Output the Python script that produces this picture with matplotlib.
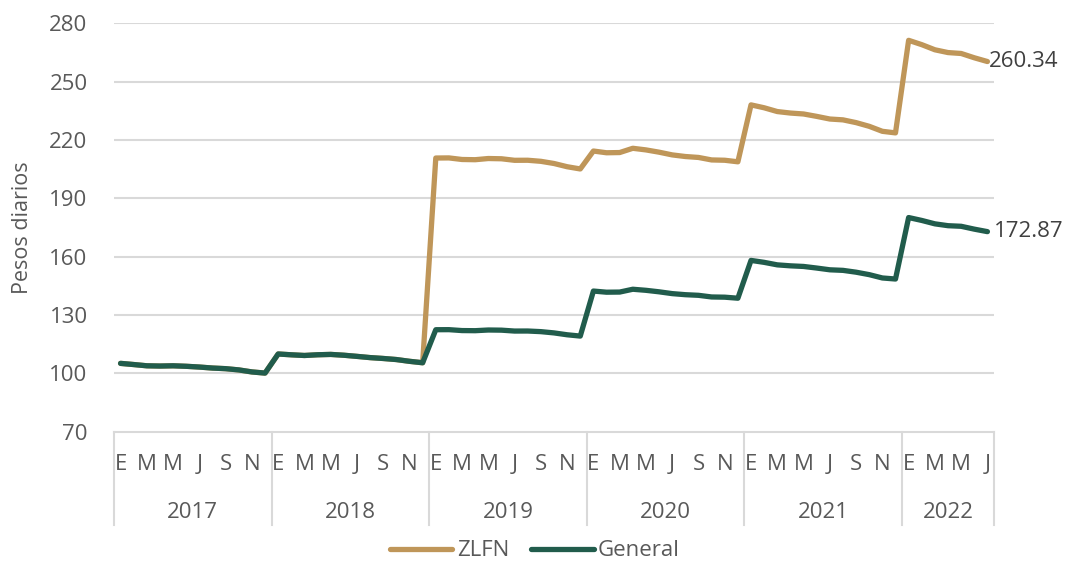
import matplotlib
matplotlib.use("Agg")
import matplotlib.pyplot as plt
import matplotlib.transforms as mtransforms

plt.rcParams['font.family'] = ['Open Sans', 'DejaVu Sans']

years = ['2017', '2018', '2019', '2020', '2021', '2022']
months_per_year = [12, 12, 12, 12, 12, 7]
month_letters = ['E', 'F', 'M', 'A', 'M', 'J', 'J', 'A', 'S', 'O', 'N', 'D']

general = [
    105.13, 104.53, 103.89, 103.76, 103.89, 103.63, 103.24, 102.73, 102.41, 101.77, 100.73, 100.14,
    109.96, 109.54, 109.19, 109.56, 109.74, 109.32, 108.73, 108.10, 107.65, 107.10, 106.19, 105.45,
    122.44, 122.47, 122.00, 121.94, 122.29, 122.21, 121.75, 121.77, 121.45, 120.80, 119.84, 119.17,
    142.32, 141.73, 141.80, 143.25, 142.70, 141.93, 141.00, 140.45, 140.13, 139.28, 139.17, 138.64,
    158.08, 157.08, 155.79, 155.29, 154.97, 154.15, 153.25, 152.96, 152.02, 150.76, 149.05, 148.51,
    180.12, 178.63, 176.88, 175.93, 175.62, 174.15, 172.87,
]
zlfn = [
    105.13, 104.53, 103.89, 103.76, 103.89, 103.63, 103.24, 102.73, 102.41, 101.77, 100.73, 100.14,
    109.96, 109.54, 109.19, 109.56, 109.74, 109.32, 108.73, 108.10, 107.65, 107.10, 106.19, 105.45,
    210.72, 210.78, 209.97, 209.86, 210.47, 210.34, 209.55, 209.58, 209.03, 207.91, 206.25, 205.10,
    214.32, 213.43, 213.54, 215.73, 214.90, 213.73, 212.33, 211.50, 211.02, 209.74, 209.58, 208.78,
    238.05, 236.56, 234.62, 233.85, 233.37, 232.14, 230.78, 230.35, 228.93, 227.03, 224.46, 223.65,
    271.25, 269.02, 266.38, 264.95, 264.48, 262.27, 260.34,
]
yticks = [70, 100, 130, 160, 190, 220, 250, 280]

TAN = '#BF9659'
GREEN = '#215C4C'
TXT = '#595959'
GRID = '#D9D9D9'
FS = 16

fig = plt.figure(figsize=(10.73, 5.64), dpi=100)
ax = fig.add_axes([114/1073, 1-431.7/564, 880/1073, 408.4/564])

n = len(general)
x = list(range(n))
ax.plot(x, zlfn, color=TAN, lw=3.8, solid_capstyle='round', solid_joinstyle='round', label='ZLFN', zorder=3)
ax.plot(x, general, color=GREEN, lw=3.8, solid_capstyle='round', solid_joinstyle='round', label='General', zorder=4)

ax.set_xlim(-0.5, n - 0.5)
ax.set_ylim(yticks[0], yticks[-1])
ax.set_yticks(yticks)
ax.set_yticklabels([str(v) for v in yticks], fontsize=FS, color=TXT)
ax.tick_params(axis='y', length=0, pad=19)
ax.set_xticks([])
for v in yticks[1:]:
    ax.axhline(v, color=GRID, lw=1.5, zorder=1)
for s in ['top', 'right', 'left']:
    ax.spines[s].set_visible(False)
ax.spines['bottom'].set_color(GRID)
ax.spines['bottom'].set_linewidth(1.5)

ax.set_ylabel('Pesos diarios', fontsize=15.5, color=TXT, labelpad=12)

trans = mtransforms.blended_transform_factory(ax.transData, ax.transAxes)
h = 408.4
start = 0
bounds = [-0.5]
for yr, m in zip(years, months_per_year):
    for k in range(0, m, 2):
        ax.text(start + k, -33/h, month_letters[k], transform=trans, ha='center', va='center',
                fontsize=FS, color=TXT)
    ax.text(start + (m - 1) / 2, -81/h, yr, transform=trans, ha='center', va='center',
            fontsize=FS, color=TXT)
    start += m
    bounds.append(start - 0.5)
for b in bounds:
    ax.plot([b, b], [0, -93/h], transform=trans, color=GRID, lw=1.5, clip_on=False)

ax.annotate(f'{zlfn[-1]:.2f}', xy=(n - 1, zlfn[-1]), xytext=(1, 0), textcoords='offset points',
            ha='left', va='center', fontsize=FS, color='#404040')
ax.annotate(f'{general[-1]:.2f}', xy=(n - 1, general[-1]), xytext=(5, 0), textcoords='offset points',
            ha='left', va='center', fontsize=FS, color='#404040')

fig.legend(loc='center', bbox_to_anchor=(535/1073, 1-551/564), ncol=2, frameon=False,
           fontsize=FS, labelcolor=TXT, handlelength=2.8, handletextpad=0.2, columnspacing=1.0)

fig.savefig('out.png', dpi=100)
